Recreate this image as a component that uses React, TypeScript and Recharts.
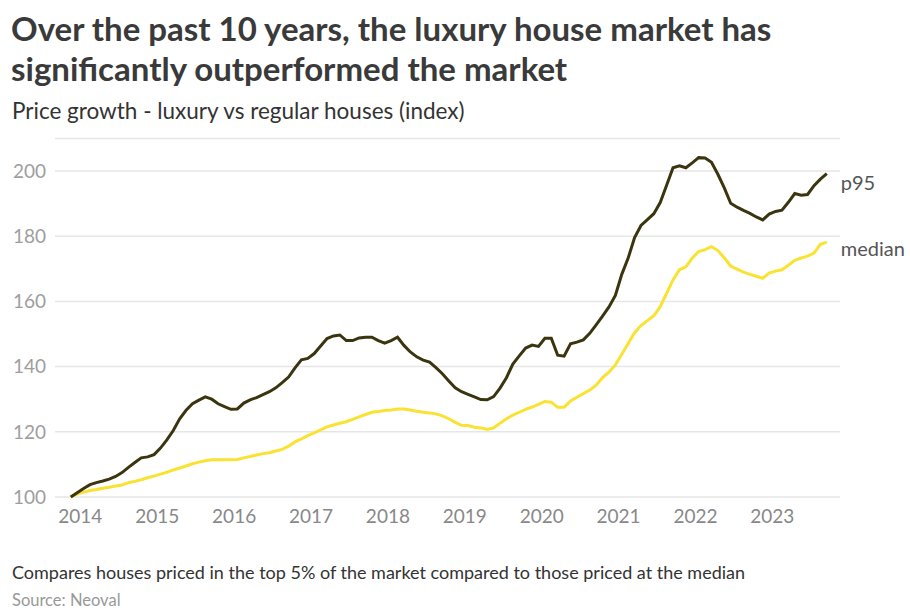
import React from 'react';
import { LineChart, Line, XAxis, YAxis, CartesianGrid } from 'recharts';

// Monthly index values, starting Nov 2013 (first value = 100)
const p95Values = [
  100, 101.3, 102.6, 103.8, 104.4, 104.9, 105.5, 106.3, 107.5, 109.1, 110.6, 112.0,
  112.3, 113.0, 115.0, 117.5, 120.4, 124.0, 126.6, 128.6, 129.7, 130.7, 130.0, 128.6,
  127.7, 126.9, 127.0, 128.8, 129.8, 130.5, 131.4, 132.3, 133.5, 135.1, 136.8, 139.6,
  142.1, 142.5, 144.0, 146.3, 148.6, 149.4, 149.7, 148.0, 148.0, 148.8, 149.0, 149.0,
  148.0, 147.2, 148.0, 149.0, 146.5, 144.5, 143.0, 142.0, 141.4, 139.7, 137.8, 135.6,
  133.5, 132.3, 131.5, 130.7, 129.9, 129.8, 130.8, 133.4, 136.6, 140.8, 143.3, 145.7,
  146.6, 146.2, 148.7, 148.7, 143.5, 143.2, 147.0, 147.5, 148.2, 150.2, 152.8, 155.5,
  158.3, 161.8, 168.3, 173.3, 179.6, 183.3, 185.1, 186.9, 190.3, 195.6, 201.0, 201.6,
  201.0, 202.5, 204.1, 204.0, 202.7, 199.0, 194.8, 190.1, 188.9, 187.9, 187.0, 185.9,
  185.0, 186.8, 187.6, 188.0, 190.4, 193.1, 192.6, 192.8, 195.5, 197.5, 199.2,
];

const medianValues = [
  100, 100.9, 101.5, 102.0, 102.3, 102.7, 103.0, 103.4, 103.7, 104.4, 104.8, 105.3,
  105.9, 106.4, 107.0, 107.6, 108.3, 108.9, 109.5, 110.2, 110.7, 111.1, 111.4, 111.4,
  111.4, 111.4, 111.5, 112.0, 112.4, 112.9, 113.3, 113.6, 114.1, 114.6, 115.6, 116.9,
  117.8, 118.8, 119.7, 120.6, 121.5, 122.1, 122.6, 123.1, 123.8, 124.6, 125.3, 126.0,
  126.2, 126.5, 126.7, 127.0, 127.0, 126.7, 126.3, 126.0, 125.8, 125.5, 124.9, 124.0,
  122.9, 122.0, 121.9, 121.4, 121.2, 120.7, 121.2, 122.6, 124.0, 125.1, 126.0, 126.9,
  127.6, 128.4, 129.3, 129.1, 127.5, 127.5, 129.5, 130.6, 131.7, 132.8, 134.3, 136.6,
  138.3, 140.5, 143.8, 147.1, 150.4, 152.6, 154.1, 155.6, 158.4, 162.5, 166.6, 169.7,
  170.6, 173.3, 175.3, 175.9, 176.8, 175.6, 173.4, 170.8, 169.9, 169.0, 168.3, 167.7,
  167.1, 168.7, 169.3, 169.7, 171.1, 172.6, 173.3, 173.9, 174.8, 177.5, 178.2,
];

const startYear = 2013;
const startMonth = 11; // November
const yearTicks = [2014, 2015, 2016, 2017, 2018, 2019, 2020, 2021, 2022, 2023];
const valueTicks = [100, 120, 140, 160, 180, 200];

const data = p95Values.map((v, i) => ({
  t: startYear + (startMonth - 1 + i + 0.5) / 12,
  p95: v,
  median: medianValues[i],
}));

const lastIndex = data.length - 1;

const makeEndLabel = (name: string, dy: number) => (props: any) => {
  if (props.index !== lastIndex) return null;
  return (
    <text
      x={props.x + 14}
      y={props.y + dy}
      fill="#555"
      fontSize={20}
      fontFamily="Lato"
      dominantBaseline="central"
    >
      {name}
    </text>
  );
};

export default function App() {
  return (
    <div
      style={{
        position: 'fixed',
        left: 0,
        top: 0,
        width: 910,
        height: 616,
        background: '#fff',
        fontFamily: 'Lato',
        overflow: 'hidden',
      }}
    >
      <div style={{ position: 'absolute', left: 11, top: 8, fontSize: 33, lineHeight: '40px', fontWeight: 700, color: '#3a3a3a', whiteSpace: 'nowrap' }}>
        Over the past 10 years, the luxury house market has
      </div>
      <div style={{ position: 'absolute', left: 11, top: 48, fontSize: 33, lineHeight: '40px', fontWeight: 700, color: '#3a3a3a', whiteSpace: 'nowrap' }}>
        significantly outperformed the market
      </div>
      <div style={{ position: 'absolute', left: 12, top: 97, fontSize: 22.5, lineHeight: '28px', color: '#333', whiteSpace: 'nowrap' }}>
        Price growth - luxury vs regular houses (index)
      </div>
      <div style={{ position: 'absolute', left: 0, top: 0 }}>
        <LineChart
          width={910}
          height={616}
          data={data}
          margin={{ top: 138.4, right: 70, bottom: 89, left: 0 }}
        >
          <CartesianGrid vertical={false} stroke="#e6e6e6" strokeWidth={1.5} />
          <XAxis
            dataKey="t"
            type="number"
            domain={[2013.67, 2023.88]}
            ticks={yearTicks}
            tickLine={false}
            axisLine={false}
            tickSize={0}
            tickMargin={13}
            height={30}
            interval={0}
            tick={{ fill: '#888', fontSize: 19, fontFamily: 'Lato' }}
          />
          <YAxis
            type="number"
            domain={[100, 210]}
            ticks={valueTicks}
            tickLine={false}
            axisLine={false}
            tickSize={0}
            tickMargin={9}
            width={55}
            interval={0}
            tick={{ fill: '#9e9e9e', fontSize: 19, fontFamily: 'Lato' }}
          />
          <Line
            dataKey="median"
            stroke="#fae232"
            strokeWidth={3}
            dot={false}
            isAnimationActive={false}
            label={makeEndLabel('median', 6)}
          />
          <Line
            dataKey="p95"
            stroke="#3b350f"
            strokeWidth={3}
            dot={false}
            isAnimationActive={false}
            label={makeEndLabel('p95', 8)}
          />
        </LineChart>
      </div>
      <div style={{ position: 'absolute', left: 12, top: 560, fontSize: 18, lineHeight: '24px', color: '#333', whiteSpace: 'nowrap' }}>
        Compares houses priced in the top 5% of the market compared to those priced at the median
      </div>
      <div style={{ position: 'absolute', left: 12, top: 589, fontSize: 16.5, lineHeight: '22px', color: '#999', whiteSpace: 'nowrap' }}>
        Source: Neoval
      </div>
    </div>
  );
}
